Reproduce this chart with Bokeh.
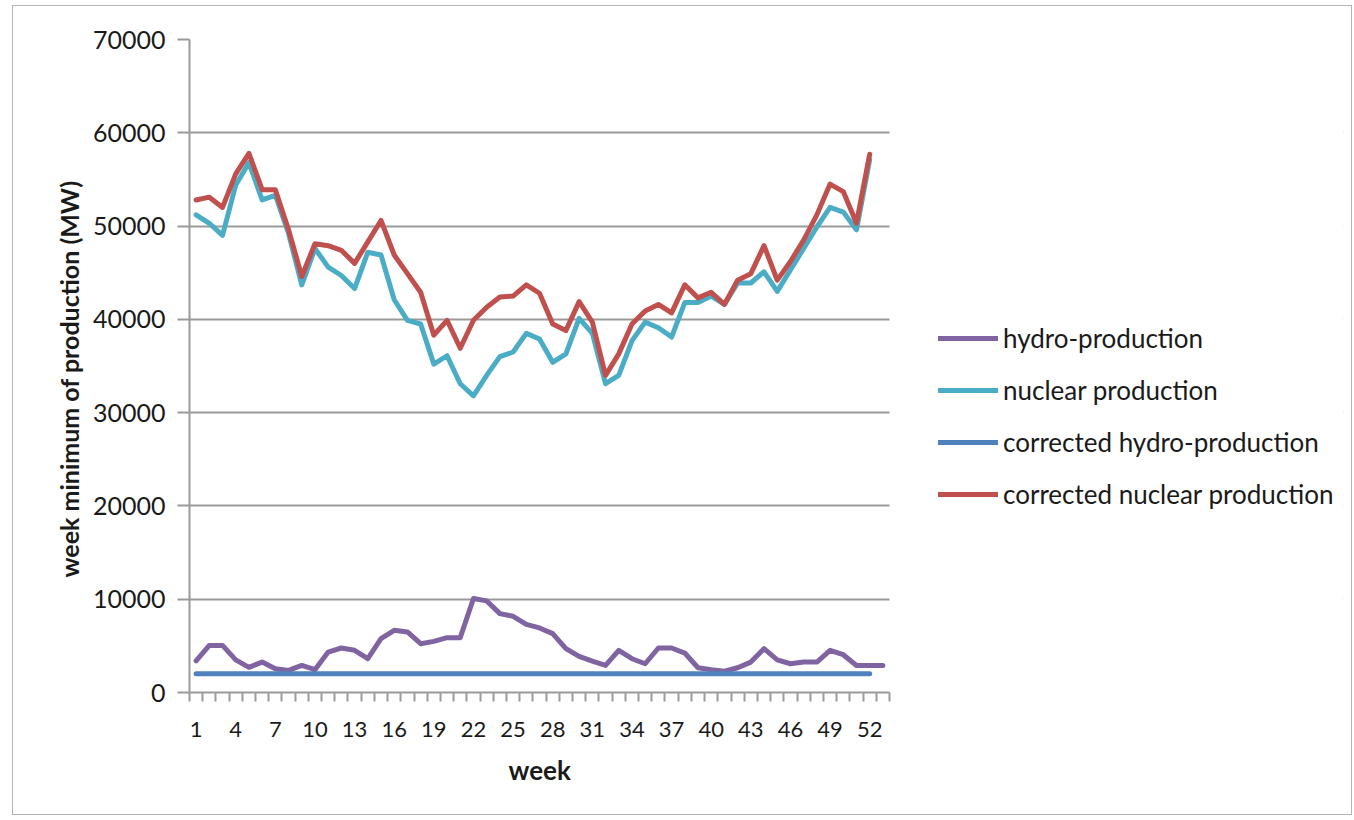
from bokeh.plotting import figure
from bokeh.models import (FixedTicker, Legend, LegendItem, Range1d, ColumnDataSource,
                          Title, BoxAnnotation)
from bokeh.embed import file_html
from bokeh.resources import INLINE

# ---- data ----
weeks_53 = list(range(1, 54))
weeks_52 = list(range(1, 53))
x_tick_labels = [1, 4, 7, 10, 13, 16, 19, 22, 25, 28, 31, 34, 37, 40, 43, 46, 49, 52]
y_ticks = [0, 10000, 20000, 30000, 40000, 50000, 60000, 70000]

hydro = [3400, 5050, 5050, 3500, 2700, 3260, 2540, 2370, 2900, 2440,
         4330, 4770, 4520, 3620, 5770, 6670, 6490, 5230, 5480, 5880,
         5880, 10070, 9820, 8460, 8170, 7300, 6920, 6310, 4700, 3870,
         3370, 2900, 4520, 3620, 3080, 4770, 4770, 4230, 2650, 2440,
         2290, 2650, 3260, 4700, 3500, 3080, 3260, 3260, 4520, 4050,
         2900, 2900, 2900]

nuclear = [51200, 50300, 49000, 54400, 56800, 52800, 53300, 49200, 43700, 47600,
           45600, 44700, 43300, 47200, 46900, 42100, 39900, 39500, 35200, 36100,
           33100, 31800, 34000, 36000, 36500, 38500, 37900, 35400, 36300, 40100,
           38500, 33100, 34000, 37700, 39700, 39100, 38100, 41800, 41800, 42500,
           41600, 43900, 43900, 45100, 43000, 45300, 47600, 49900, 52000, 51500,
           49600, 57100]

corrected_hydro = [2000, 2000, 2000, 2000, 2000, 2000, 2000, 2000, 2000, 2000,
                   2000, 2000, 2000, 2000, 2000, 2000, 2000, 2000, 2000, 2000,
                   2000, 2000, 2000, 2000, 2000, 2000, 2000, 2000, 2000, 2000,
                   2000, 2000, 2000, 2000, 2000, 2000, 2000, 2000, 2000, 2000,
                   2000, 2000, 2000, 2000, 2000, 2000, 2000, 2000, 2000, 2000,
                   2000, 2000]

corrected_nuclear = [52800, 53100, 52000, 55600, 57800, 53900, 53900, 49600, 44600, 48100,
                     47900, 47400, 46000, 48300, 50600, 46900, 44900, 42900, 38300, 39900,
                     36900, 39900, 41300, 42400, 42500, 43700, 42800, 39500, 38800, 41900,
                     39700, 34000, 36300, 39500, 40900, 41600, 40700, 43700, 42300, 42900,
                     41600, 44200, 44900, 47900, 44200, 46200, 48500, 51200, 54500, 53700,
                     50300, 57700]

series_names = ["hydro-production", "nuclear production",
                "corrected hydro-production", "corrected nuclear production"]
series_colors = ["#8064A2", "#4BACC6", "#4F81BD", "#C0504D"]
y_title = "week minimum of production (MW)"

# ---- layout constants ----
FONT = "Lato"
TEXT = "#1a1a1a"
GRID = "#9a9a9a"
FIG_W, FIG_H = 1340, 810
B_LEFT, B_RIGHT, B_TOP, B_BOTTOM = 176, 10, 33, 124
PLOT_W = 700                      # width of the chart area proper
FRAME_W = FIG_W - B_LEFT - B_RIGHT
X0, X1 = 0.5, 53.5                # category span of the chart area
x_end = X0 + (X1 - X0) * FRAME_W / PLOT_W   # room on the right for the legend

p = figure(width=FIG_W, height=FIG_H, output_backend="svg", toolbar_location=None,
           x_range=Range1d(X0, x_end), y_range=Range1d(0, 70000),
           min_border_left=B_LEFT, min_border_right=B_RIGHT,
           min_border_top=B_TOP, min_border_bottom=B_BOTTOM)
p.styles = {"border": "1px solid #b4b4b4", "margin-left": "12px", "margin-top": "5px"}
p.outline_line_color = None
p.background_fill_color = "white"
p.border_fill_color = "white"

# horizontal grid
p.ygrid.ticker = FixedTicker(ticks=y_ticks)
p.ygrid.grid_line_color = GRID
p.ygrid.grid_line_width = 2
p.xgrid.grid_line_color = None
# keep the legend area (right of the chart area) clean
p.add_layout(BoxAnnotation(left=X1, right=x_end + 3, bottom=-5000, top=75000,
                           fill_color="white", fill_alpha=1.0,
                           line_color=None, level="underlay"))

src_h = ColumnDataSource(dict(x=weeks_53, y=hydro))
src_n = ColumnDataSource(dict(x=weeks_52, y=nuclear))
src_ch = ColumnDataSource(dict(x=weeks_52, y=corrected_hydro))
src_cn = ColumnDataSource(dict(x=weeks_52, y=corrected_nuclear))

renderers = []
for src, col in zip([src_h, src_n, src_ch, src_cn], series_colors):
    r = p.line("x", "y", source=src, line_color=col, line_width=5,
               line_join="round", line_cap="round")
    renderers.append(r)

# x axis
p.xaxis.bounds = (X0, X1)
p.xaxis.ticker = FixedTicker(ticks=x_tick_labels,
                             minor_ticks=[w - 0.5 for w in range(1, 55)])
p.xaxis.major_tick_line_color = None
p.xaxis.minor_tick_line_color = GRID
p.xaxis.minor_tick_line_width = 2
p.xaxis.minor_tick_out = 9
p.xaxis.minor_tick_in = 0
p.xaxis.axis_line_color = GRID
p.xaxis.axis_line_width = 2
p.xaxis.major_label_text_font = FONT
p.xaxis.major_label_text_font_size = "22px"
p.xaxis.major_label_text_color = TEXT
p.xaxis.major_label_standoff = 20

# x title centred under the chart area
xtitle = Title(text="week", align="left", offset=319, standoff=24,
               text_font=FONT, text_font_style="bold", text_font_size="26px",
               text_color=TEXT)
p.add_layout(xtitle, "below")

# y axis
p.yaxis.ticker = FixedTicker(ticks=y_ticks)
p.yaxis.minor_tick_line_color = None
p.yaxis.major_tick_line_color = GRID
p.yaxis.major_tick_line_width = 2
p.yaxis.major_tick_out = 12
p.yaxis.major_tick_in = 0
p.yaxis.axis_line_color = GRID
p.yaxis.axis_line_width = 2
p.yaxis.major_label_text_font = FONT
p.yaxis.major_label_text_font_size = "25px"
p.yaxis.major_label_text_color = TEXT
p.yaxis.major_label_standoff = 12

ytitle = Title(text=y_title, align="left", offset=115, standoff=11,
               text_font=FONT, text_font_style="bold", text_font_size="25px",
               text_color=TEXT)
p.add_layout(ytitle, "left")

legend = Legend(items=[LegendItem(label=n, renderers=[r]) for n, r in zip(series_names, renderers)],
                location=(749, 182), glyph_width=60, glyph_height=30,
                label_height=30, spacing=20, padding=0, margin=0,
                label_standoff=5, border_line_color=None,
                background_fill_alpha=0,
                label_text_font=FONT, label_text_font_size="26px",
                label_text_color=TEXT)
p.add_layout(legend)

open("out.html", "w").write(file_html(p, INLINE))
